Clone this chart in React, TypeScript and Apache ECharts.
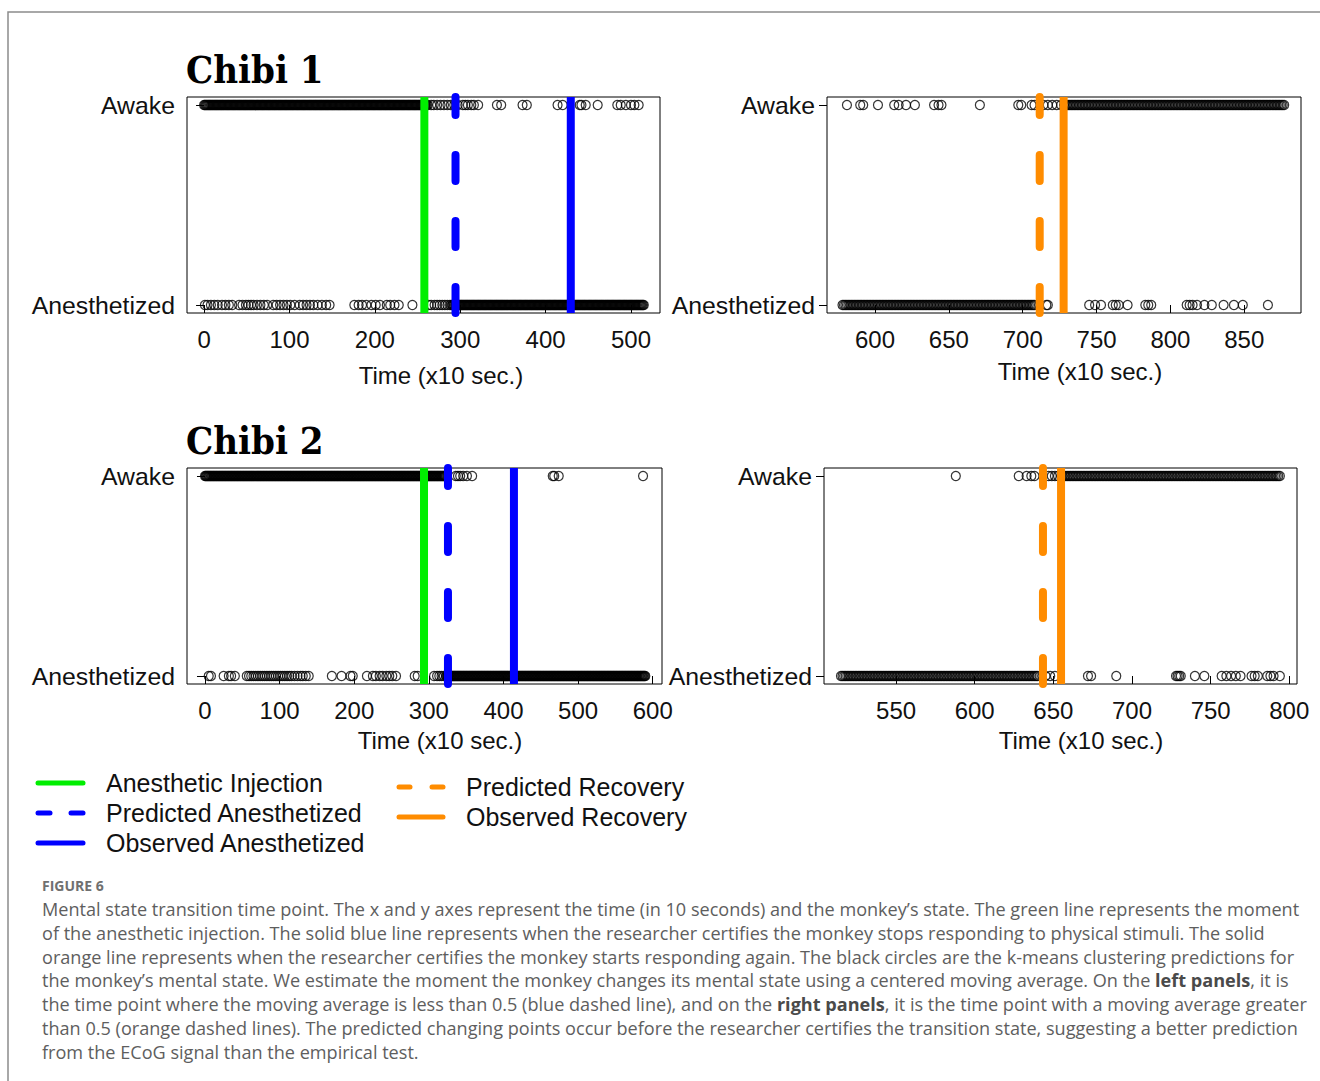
import React, { useEffect, useRef } from "react";
import * as echarts from "echarts";

type Run = [number, number];

// ---------- Data (time in 10 s units; state 1 = Awake, 0 = Anesthetized) ----------
const stateValues = [0, 1];
const stateLabels = ["Anesthetized", "Awake"];

// Chibi 1 — induction (top left)
const c1InAwakeRuns: Run[] = [[0, 262]];
const c1InAwakePts = [266, 269, 273, 277, 281, 285, 289, 293, 297, 303, 306, 309, 313, 316, 321, 343, 348, 373, 378, 414, 420, 440, 442, 447, 461, 484, 488, 494, 500, 504, 509];
const c1InAnesRuns: Run[] = [[290, 515]];
const c1InAnesPts = [1, 4, 8, 12, 16, 21, 25, 29, 33, 41, 45, 49, 52, 55, 58, 62, 66, 70, 74, 81, 85, 89, 93, 97, 101, 106, 112, 116, 120, 124, 128, 133, 138, 143, 147, 176, 181, 185, 190, 196, 201, 206, 214, 218, 223, 228, 244, 263, 266, 270, 273, 276, 279, 282, 285, 288];
const c1InTicks = [0, 100, 200, 300, 400, 500];
const c1InInjection = [258];
const c1InPredicted = [294.5];
const c1InObserved = [429.5];

// Chibi 1 — recovery (top right)
const c1RecAwakeRuns: Run[] = [[728, 877]];
const c1RecAwakePts = [581, 590, 592, 602, 613, 616, 621, 627, 640, 643, 645, 671, 697, 699, 706, 708, 714, 717, 720, 723, 726];
const c1RecAnesRuns: Run[] = [[578, 708]];
const c1RecAnesPts = [716, 717, 745, 749, 753, 761, 763, 765, 771, 783, 785, 787, 811, 813, 815, 818, 823, 828, 836, 843, 849, 866];
const c1RecTicks = [600, 650, 700, 750, 800, 850];
const c1RecPredicted = [711.5];
const c1RecObserved = [727.7];

// Chibi 2 — induction (bottom left)
const c2InAwakeRuns: Run[] = [[0, 322]];
const c2InAwakePts = [336, 339, 342, 346, 351, 358, 466, 468, 474, 587];
const c2InAnesRuns: Run[] = [[323, 590]];
const c2InAnesPts = [5, 8, 25, 32, 35, 40, 56, 59, 62, 65, 68, 71, 74, 77, 80, 83, 86, 89, 92, 95, 98, 101, 104, 107, 110, 113, 116, 120, 124, 128, 131, 135, 139, 170, 183, 195, 198, 217, 225, 229, 234, 238, 243, 247, 251, 256, 281, 285, 307, 311, 314, 317, 320];
const c2InTicks = [0, 100, 200, 300, 400, 500, 600];
const c2InInjection = [293.5];
const c2InPredicted = [325.6];
const c2InObserved = [414];

// Chibi 2 — recovery (bottom right)
const c2RecAwakeRuns: Run[] = [[656, 794]];
const c2RecAwakePts = [588, 628, 633, 636, 638, 647, 649, 651, 653, 655];
const c2RecAnesRuns: Run[] = [[515, 640]];
const c2RecAnesPts = [645, 648, 651, 672, 674, 690, 728, 729, 730, 731, 740, 746, 757, 760, 763, 766, 769, 776, 778, 780, 786, 788, 790, 794];
const c2RecTicks = [550, 600, 650, 700, 750, 800];
const c2RecPredicted = [643.4];
const c2RecObserved = [654.9];

const legendLeft = ["Anesthetic Injection", "Predicted Anesthetized", "Observed Anesthetized"];
const legendRight = ["Predicted Recovery", "Observed Recovery"];

const captionLines = [
  "Mental state transition time point. The x and y axes represent the time (in 10 seconds) and the monkey\u2019s state. The green line represents the moment",
  "of the anesthetic injection. The solid blue line represents when the researcher certifies the monkey stops responding to physical stimuli. The solid",
  "orange line represents when the researcher certifies the monkey starts responding again. The black circles are the k-means clustering predictions for",
  "the monkey\u2019s mental state. We estimate the moment the monkey changes its mental state using a centered moving average. On the {b|left panels}, it is",
  "the time point where the moving average is less than 0.5 (blue dashed line), and on the {b|right panels}, it is the time point with a moving average greater",
  "than 0.5 (orange dashed lines). The predicted changing points occur before the researcher certifies the transition state, suggesting a better prediction",
  "from the ECoG signal than the empirical test.",
];

// ---------- Styling / layout ----------
const GREEN = "#00ee00";
const BLUE = "#0000ff";
const ORANGE = "#ff8c00";
const AXIS_FONT = "Liberation Sans";
const CAPTION_FONT = "Open Sans";
const yEdges = [-0.04, 1.04];

function pointsFor(runs: Run[], singles: number[], state: number) {
  const out: number[][] = [];
  runs.forEach(([a, b]) => {
    for (let t = a; t <= b; t++) out.push([t, state]);
  });
  singles.forEach((t) => out.push([t, state]));
  return out;
}

type LineDef = { x: number[]; color: string; dashed: boolean };
type Panel = {
  awake: number[][];
  anes: number[][];
  ticks: number[];
  xMin: number;
  xMax: number;
  grid: { left: number; top: number; width: number; height: number };
  lines: LineDef[];
};

const panels: Panel[] = [
  {
    awake: pointsFor(c1InAwakeRuns, c1InAwakePts, 1),
    anes: pointsFor(c1InAnesRuns, c1InAnesPts, 0),
    ticks: c1InTicks,
    xMin: -20,
    xMax: 534,
    grid: { left: 187, top: 97, width: 473, height: 216 },
    lines: [
      { x: c1InInjection, color: GREEN, dashed: false },
      { x: c1InPredicted, color: BLUE, dashed: true },
      { x: c1InObserved, color: BLUE, dashed: false },
    ],
  },
  {
    awake: pointsFor(c1RecAwakeRuns, c1RecAwakePts, 1),
    anes: pointsFor(c1RecAnesRuns, c1RecAnesPts, 0),
    ticks: c1RecTicks,
    xMin: 567.5,
    xMax: 888.4,
    grid: { left: 827, top: 97, width: 474, height: 216 },
    lines: [
      { x: c1RecPredicted, color: ORANGE, dashed: true },
      { x: c1RecObserved, color: ORANGE, dashed: false },
    ],
  },
  {
    awake: pointsFor(c2InAwakeRuns, c2InAwakePts, 1),
    anes: pointsFor(c2InAnesRuns, c2InAnesPts, 0),
    ticks: c2InTicks,
    xMin: -24.1,
    xMax: 612.4,
    grid: { left: 187, top: 468, width: 475, height: 216 },
    lines: [
      { x: c2InInjection, color: GREEN, dashed: false },
      { x: c2InPredicted, color: BLUE, dashed: true },
      { x: c2InObserved, color: BLUE, dashed: false },
    ],
  },
  {
    awake: pointsFor(c2RecAwakeRuns, c2RecAwakePts, 1),
    anes: pointsFor(c2RecAnesRuns, c2RecAnesPts, 0),
    ticks: c2RecTicks,
    xMin: 504.2,
    xMax: 804.9,
    grid: { left: 824, top: 468, width: 473, height: 216 },
    lines: [
      { x: c2RecPredicted, color: ORANGE, dashed: true },
      { x: c2RecObserved, color: ORANGE, dashed: false },
    ],
  },
];

function buildOption() {
  const grid: any[] = [];
  const xAxis: any[] = [];
  const yAxis: any[] = [];
  const series: any[] = [];

  panels.forEach((p, i) => {
    grid.push({ ...p.grid, show: true, borderColor: "#000", borderWidth: 1, backgroundColor: "transparent" });
    xAxis.push({
      type: "value",
      gridIndex: i,
      min: p.xMin,
      max: p.xMax,
      axisLine: { show: false },
      splitLine: { show: false },
      axisTick: { show: true, inside: false, length: 8, customValues: p.ticks, lineStyle: { color: "#000", width: 1 } },
      axisLabel: { show: true, customValues: p.ticks, margin: 14, fontSize: 24, fontFamily: AXIS_FONT, color: "#111" },
    });
    yAxis.push({
      type: "value",
      gridIndex: i,
      min: yEdges[0],
      max: yEdges[1],
      axisLine: { show: false },
      splitLine: { show: false },
      axisTick: { show: true, inside: false, length: 8, customValues: stateValues, lineStyle: { color: "#000", width: 1 } },
      axisLabel: {
        show: true,
        customValues: stateValues,
        margin: 12,
        fontSize: 24.8,
        fontFamily: AXIS_FONT,
        color: "#111",
        formatter: (v: number) => stateLabels[stateValues.indexOf(Math.round(v))],
      },
    });
    [p.awake, p.anes].forEach((d) => {
      series.push({
        type: "scatter",
        xAxisIndex: i,
        yAxisIndex: i,
        data: d,
        symbol: "circle",
        symbolSize: 9,
        clip: false,
        silent: true,
        z: 2,
        itemStyle: { color: "rgba(0,0,0,0)", borderColor: "#000", borderWidth: 1.2 },
      });
    });
    p.lines.forEach((l) => {
      series.push({
        type: "line",
        xAxisIndex: i,
        yAxisIndex: i,
        data: yEdges.map((y) => [l.x[0], y]),
        symbol: "none",
        clip: true,
        silent: true,
        z: 5,
        lineStyle: {
          color: l.color,
          width: 8,
          type: l.dashed ? [26, 40] : "solid",
          cap: l.dashed ? "round" : "butt",
        },
      });
    });
  });

  const axisTitle = (x: number, y: number) => ({
    type: "text",
    style: { text: "Time (x10 sec.)", x, y, align: "center", verticalAlign: "middle", fontSize: 24, fontFamily: AXIS_FONT, fill: "#111" },
  });
  const title = (txt: string, y: number) => ({
    type: "text",
    style: { text: txt, x: 186, y, align: "left", verticalAlign: "middle", fontSize: 38, fontWeight: "bold", fontFamily: "DejaVu Serif Condensed, DejaVu Serif", fill: "#000" },
  });

  const legendLine = (x1: number, x2: number, y: number, color: string) => ({
    type: "line",
    shape: { x1, y1: y, x2, y2: y },
    style: { stroke: color, lineWidth: 5, lineCap: "round" },
  });
  const legendText = (txt: string, x: number, y: number) => ({
    type: "text",
    style: { text: txt, x, y, align: "left", verticalAlign: "middle", fontSize: 25, fontFamily: AXIS_FONT, fill: "#111" },
  });

  const graphic: any[] = [
    { type: "rect", shape: { x: 8, y: 12, width: 1400, height: 1200 }, style: { fill: "none", stroke: "#8c8c8c", lineWidth: 1.5 } },
    title("Chibi 1", 69),
    title("Chibi 2", 440),
    axisTitle(441, 375),
    axisTitle(1080, 371),
    axisTitle(440, 740),
    axisTitle(1081, 740),
    legendLine(38, 83, 783, GREEN),
    legendLine(38, 50, 813, BLUE),
    legendLine(71, 83, 813, BLUE),
    legendLine(38, 83, 843, BLUE),
    legendLine(399, 410, 787, ORANGE),
    legendLine(432, 443, 787, ORANGE),
    legendLine(399, 443, 817, ORANGE),
    legendText(legendLeft[0], 106, 783),
    legendText(legendLeft[1], 106, 813),
    legendText(legendLeft[2], 106, 843),
    legendText(legendRight[0], 466, 787),
    legendText(legendRight[1], 466, 817),
    {
      type: "text",
      style: { text: "FIGURE 6", x: 42, y: 885, align: "left", verticalAlign: "middle", fontSize: 14, fontWeight: "bold", fontFamily: CAPTION_FONT, fill: "#707070" },
    },
    {
      type: "text",
      style: {
        text: captionLines.join("\n"),
        x: 42,
        y: 897,
        align: "left",
        verticalAlign: "top",
        fontSize: 18.1,
        fontFamily: CAPTION_FONT,
        fill: "#5e5e5e",
        lineHeight: 23.8,
        rich: {
          b: { fontSize: 18.1, fontFamily: CAPTION_FONT, fontWeight: "bold", fill: "#4a4a4a", lineHeight: 23.8 },
        },
      },
    },
  ];

  return { animation: false, backgroundColor: "#fff", grid, xAxis, yAxis, series, graphic };
}

export default function App() {
  const ref = useRef<HTMLDivElement>(null);
  useEffect(() => {
    if (!ref.current) return;
    const chart = echarts.init(ref.current, undefined, { renderer: "svg" });
    chart.setOption(buildOption() as any);
    return () => chart.dispose();
  }, []);
  return <div ref={ref} style={{ position: "absolute", left: 0, top: 0, width: 1320, height: 1081, background: "#fff" }} />;
}
